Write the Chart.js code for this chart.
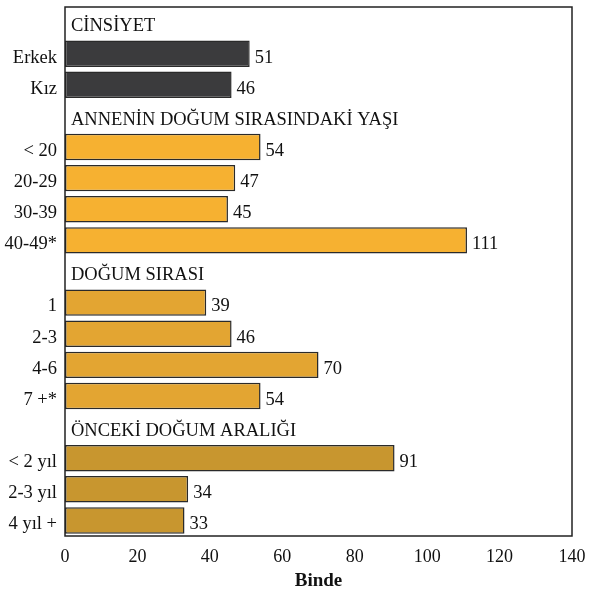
<!DOCTYPE html>
<html>
<head>
<meta charset="utf-8">
<script src="https://cdn.jsdelivr.net/npm/chart.js@4/dist/chart.umd.min.js"></script>
<style>
  html, body { margin: 0; padding: 0; background: #fff; }
  #wrap { width: 590px; height: 592px; }
</style>
</head>
<body>
<div id="wrap"><canvas id="c" width="590" height="592"></canvas></div>
<script>
// Row labels (empty rows carry the section headings)
const categories = ['', 'Erkek', 'Kız', '', '< 20', '20-29', '30-39', '40-49*', '', '1', '2-3', '4-6', '7 +*', '', '< 2 yıl', '2-3 yıl', '4 yıl +'];
// Rates per thousand
const values = [null, 51, 46, null, 54, 47, 45, 111, null, 39, 46, 70, 54, null, 91, 34, 33];
// Section each row belongs to
const sectionOfRow = [0, 0, 0, 1, 1, 1, 1, 1, 2, 2, 2, 2, 2, 3, 3, 3, 3];
// Section headings and the row they sit on
const sectionTitles = ['CİNSİYET', 'ANNENİN DOĞUM SIRASINDAKİ YAŞI', 'DOĞUM SIRASI', 'ÖNCEKİ DOĞUM ARALIĞI'];
const sectionRows = [0, 3, 8, 13];
const xTicks = [0, 20, 40, 60, 80, 100, 120, 140];
const axisTitle = 'Binde';

const sectionColors = ['#3b3b3d', '#f6b131', '#e3a532', '#c8962f'];
const FONT = "'Liberation Serif', 'DejaVu Serif', serif";

const overlay = {
  id: 'overlay',
  afterDatasetsDraw(chart) {
    const ctx = chart.ctx;
    const area = chart.chartArea;
    const y = chart.scales.y;
    ctx.save();
    // section headings
    ctx.fillStyle = '#111';
    ctx.font = '18.5px ' + FONT;
    ctx.textAlign = 'left';
    ctx.textBaseline = 'middle';
    sectionTitles.forEach((t, i) => {
      ctx.fillText(t, area.left + 6, y.getPixelForValue(sectionRows[i]) + 4);
    });
    // value labels
    const meta = chart.getDatasetMeta(0);
    meta.data.forEach((bar, i) => {
      if (values[i] == null) return;
      ctx.fillText(String(values[i]), bar.x + 5, bar.y + 4);
    });
    // frame
    ctx.strokeStyle = '#222';
    ctx.lineWidth = 1.5;
    ctx.strokeRect(area.left, area.top, area.right - area.left, area.bottom - area.top);
    ctx.restore();
  }
};

new Chart(document.getElementById('c'), {
  type: 'bar',
  data: {
    labels: categories,
    datasets: [{
      data: values,
      backgroundColor: sectionOfRow.map(s => sectionColors[s]),
      borderColor: '#2a2a2a',
      borderWidth: 1.5,
      borderSkipped: false,
      categoryPercentage: 1,
      barPercentage: 0.85
    }]
  },
  options: {
    indexAxis: 'y',
    responsive: false,
    animation: false,
    devicePixelRatio: 1,
    layout: { padding: { top: 7, right: 18, left: 0, bottom: 0 } },
    plugins: { legend: { display: false }, tooltip: { enabled: false } },
    scales: {
      x: {
        min: 0, max: 140,
        afterBuildTicks(axis) { axis.ticks = xTicks.map(v => ({ value: v })); },
        grid: { display: false, drawTicks: false },
        border: { display: false },
        ticks: { color: '#111', font: { family: FONT, size: 18 }, padding: 10, maxRotation: 0 },
        title: { display: true, text: axisTitle, color: '#111', font: { family: FONT, size: 19, weight: 'bold' }, padding: { top: 0, bottom: 0 } },
        afterFit(axis) { axis.height = 56; axis.paddingLeft = 0; axis.paddingRight = 0; }
      },
      y: {
        grid: { display: false, drawTicks: false },
        border: { display: false },
        ticks: { color: '#111', font: { family: FONT, size: 18.5 }, padding: 8, autoSkip: false, labelOffset: 4 },
        afterFit(axis) { axis.width = 65; axis.paddingTop = 0; axis.paddingBottom = 0; }
      }
    }
  },
  plugins: [overlay]
});
</script>
</body>
</html>
